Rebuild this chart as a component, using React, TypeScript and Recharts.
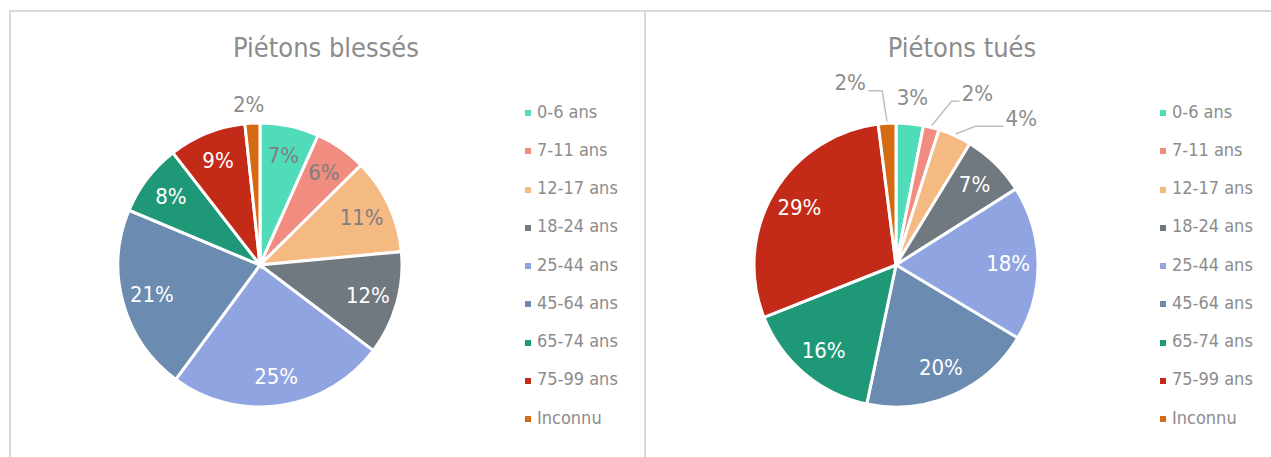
import React from 'react';
import { PieChart, Pie, Cell, Legend } from 'recharts';

const CATEGORIES = ['0-6 ans', '7-11 ans', '12-17 ans', '18-24 ans', '25-44 ans', '45-64 ans', '65-74 ans', '75-99 ans', 'Inconnu'];
const BLESSES = [6.7, 5.9, 10.9, 11.8, 24.8, 21.2, 8.2, 8.8, 1.7];
const TUES = [3.1, 1.8, 3.8, 7.3, 17.6, 19.7, 15.7, 29.0, 2.0];

const COLORS = ['#50dcb8', '#f08c80', '#f5b982', '#707880', '#8fa4e0', '#6b8bb0', '#1f9878', '#c32b18', '#d46a12'];
const INK = ['#7f7f7f', '#7f7f7f', '#7f7f7f', '#fff', '#fff', '#fff', '#fff', '#fff', '#fff'];

const FONT = "'DejaVu Sans Condensed', 'DejaVu Sans', sans-serif";
const GREY = '#8c8c8c';
const RAD = Math.PI / 180;

// outside labels: angle shift (clockwise deg), distance past the rim, leader length
type Nudge = { da: number; dr: number; lead?: number };
const NUDGE_BLESSES: Record<number, Nudge> = { 8: { da: -1, dr: 19 } };
const NUDGE_TUES: Record<number, Nudge> = {
  0: { da: 0, dr: 26 },
  1: { da: 11, dr: 48, lead: 8 },
  2: { da: 16, dr: 51, lead: 28 },
  8: { da: -10.5, dr: 46, lead: 14 },
};

const toRows = (vals: number[]) => CATEGORIES.map((name, i) => ({ name, value: vals[i] }));

function makeLabel(nudges: Record<number, Nudge>) {
  return (p: any) => {
    const { cx, cy, midAngle, outerRadius, percent, index } = p;
    const txt = `${Math.round(percent * 100)}%`;
    const n = nudges[index];
    if (!n) {
      const r = outerRadius * 0.79;
      const x = cx + r * Math.cos(-midAngle * RAD);
      const y = cy + r * Math.sin(-midAngle * RAD);
      return (
        <text x={x} y={y} fill={INK[index]} fontSize={22} fontFamily={FONT} textAnchor="middle" dominantBaseline="central">
          {txt}
        </text>
      );
    }
    const a = midAngle - n.da;
    const r = outerRadius + n.dr;
    const x = cx + r * Math.cos(-a * RAD);
    const y = cy + r * Math.sin(-a * RAD);
    let line = null;
    if (n.lead) {
      const side = x > cx ? 1 : -1;
      const ex = cx + (outerRadius + 2) * Math.cos(-midAngle * RAD);
      const ey = cy + (outerRadius + 2) * Math.sin(-midAngle * RAD);
      const ax = x - side * 18;
      const bx = ax - side * n.lead;
      const ly = y + 8;
      line = <polyline points={`${ex},${ey} ${bx},${ly} ${ax},${ly}`} fill="none" stroke="#bfbfbf" strokeWidth={1.5} />;
    }
    return (
      <g>
        {line}
        <text x={x} y={y} fill={GREY} fontSize={22} fontFamily={FONT} textAnchor="middle" dominantBaseline="central">
          {txt}
        </text>
      </g>
    );
  };
}

function LegendList(props: any) {
  const items = [...(props.payload || [])].sort(
    (a: any, b: any) => CATEGORIES.indexOf(a.value) - CATEGORIES.indexOf(b.value)
  );
  return (
    <div style={{ fontFamily: FONT, fontSize: 18, color: GREY }}>
      {items.map((it: any, i: number) => (
        <div key={i} style={{ height: 38.25, display: 'flex', alignItems: 'center' }}>
          <span style={{ width: 6, height: 6, background: it.color, marginRight: 6, marginTop: 4, display: 'inline-block' }} />
          <span>{it.value}</span>
        </div>
      ))}
    </div>
  );
}

function Donut({ vals, cx, legendLeft, nudges, width }: any) {
  return (
    <PieChart width={width} height={457} margin={{ top: 0, right: 0, bottom: 0, left: 0 }}>
      <Pie
        data={toRows(vals)}
        dataKey="value"
        nameKey="name"
        cx={cx}
        cy={265}
        outerRadius={142}
        startAngle={90}
        endAngle={-270}
        stroke="#fff"
        strokeWidth={3}
        label={makeLabel(nudges)}
        labelLine={false}
        isAnimationActive={false}
      >
        {vals.map((_: number, i: number) => (
          <Cell key={i} fill={COLORS[i]} />
        ))}
      </Pie>
      <Legend
        layout="vertical"
        content={<LegendList />}
        wrapperStyle={{ left: legendLeft, top: 92, width: 130, bottom: 'auto', right: 'auto' }}
      />
    </PieChart>
  );
}

export default function App() {
  const title: React.CSSProperties = {
    position: 'absolute', top: 30, width: 400, textAlign: 'center', lineHeight: '36px',
    fontSize: 27, color: GREY, fontFamily: FONT,
  };
  return (
    <div style={{ position: 'fixed', left: 0, top: 0, width: 1271, height: 457, overflow: 'hidden', background: '#fff' }}>
      <div style={{ position: 'absolute', left: 9, top: 10, width: 637, height: 480, border: '2px solid #d9d9d9', boxSizing: 'border-box' }} />
      <div style={{ position: 'absolute', left: 644, top: 10, width: 640, height: 480, border: '2px solid #d9d9d9', boxSizing: 'border-box' }} />
      <div style={{ ...title, left: 326 - 200 }}>Piétons blessés</div>
      <div style={{ ...title, left: 962 - 200 }}>Piétons tués</div>
      <div style={{ position: 'absolute', left: 0, top: 0 }}>
        <Donut vals={BLESSES} cx={260} legendLeft={525} nudges={NUDGE_BLESSES} width={640} />
      </div>
      <div style={{ position: 'absolute', left: 645, top: 0 }}>
        <Donut vals={TUES} cx={251} legendLeft={515} nudges={NUDGE_TUES} width={626} />
      </div>
    </div>
  );
}
